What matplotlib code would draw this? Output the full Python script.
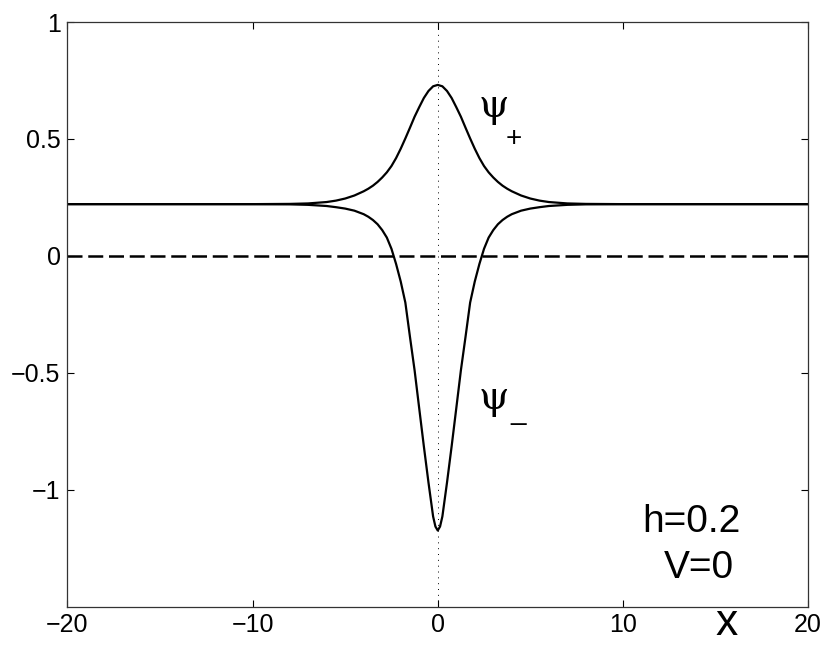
import matplotlib
matplotlib.use('Agg')
import matplotlib.pyplot as plt

plt.rcParams['font.family'] = ['Liberation Sans', 'DejaVu Sans']

# values
x_plus = [-20, -10, -8, -7, -6, -5.5, -5, -4.5, -4, -3.75, -3.5, -3.25, -3, -2.75, -2.5, -2.25, -2, -1.75, -1.5, -1.25, -1, -0.75, -0.5, -0.25,
          0, 0.25, 0.5, 0.75, 1, 1.25, 1.5, 1.75, 2, 2.25, 2.5, 2.75, 3, 3.25, 3.5, 3.75, 4, 4.5, 5, 5.5, 6, 7, 8, 10, 20]
psi_plus = [0.221, 0.221, 0.222, 0.224, 0.230, 0.236, 0.245, 0.258, 0.276, 0.287, 0.300, 0.316, 0.335, 0.357, 0.384, 0.418, 0.458, 0.502, 0.548, 0.595, 0.636, 0.675, 0.705, 0.725,
            0.731, 0.725, 0.705, 0.675, 0.636, 0.595, 0.548, 0.502, 0.458, 0.418, 0.384, 0.357, 0.335, 0.316, 0.300, 0.287, 0.276, 0.258, 0.245, 0.236, 0.230, 0.224, 0.222, 0.221, 0.221]

x_minus = [-20, -10, -8, -7, -6, -5.5, -5, -4.5, -4, -3.75, -3.5, -3.25, -3, -2.75, -2.5, -2.25, -2, -1.75, -1.5, -1.25, -1, -0.75, -0.5, -0.25, -0.125,
           0, 0.125, 0.25, 0.5, 0.75, 1, 1.25, 1.5, 1.75, 2, 2.25, 2.5, 2.75, 3, 3.25, 3.5, 3.75, 4, 4.5, 5, 5.5, 6, 7, 8, 10, 20]
psi_minus = [0.221, 0.221, 0.220, 0.218, 0.213, 0.208, 0.202, 0.193, 0.178, 0.167, 0.153, 0.135, 0.110, 0.078, 0.030, -0.035, -0.110, -0.200, -0.347, -0.490, -0.653, -0.815, -0.970, -1.115, -1.158,
             -1.175, -1.158, -1.115, -0.970, -0.815, -0.653, -0.490, -0.347, -0.200, -0.110, -0.035, 0.030, 0.078, 0.110, 0.135, 0.153, 0.167, 0.178, 0.193, 0.202, 0.208, 0.213, 0.218, 0.220, 0.221, 0.221]

xlim = [-20, 20]
ylim = [-1.5, 1]
xticks = [-20, -10, 0, 10, 20]
yticks = [-1, -0.5, 0, 0.5, 1]
yticklabels = ['\u22121', '\u22120.5', '0', '0.5', '1']
xticklabels = ['\u221220', '\u221210', '0', '10', '20']

fig = plt.figure(figsize=(8.3, 6.53), dpi=100)
ax = fig.add_axes([0.0813, 0.0712, 0.8922, 0.8951])

ax.plot(x_plus, psi_plus, color='black', lw=1.6)
ax.plot(x_minus, psi_minus, color='black', lw=1.6)
ax.plot(xlim, [0, 0], color='black', lw=1.8, linestyle=(0, (6, 2.3)))
ax.plot([0, 0], ylim, color='black', lw=0.7, linestyle=(0, (1, 5)))

ax.set_xlim(xlim)
ax.set_ylim(ylim)
ax.set_xticks(xticks)
ax.set_xticklabels(xticklabels)
ax.set_yticks(yticks)
ax.set_yticklabels(yticklabels)
ax.tick_params(direction='in', length=5.3, width=0.8, labelsize=18, top=True, right=True, pad=5)
for s in ax.spines.values():
    s.set_linewidth(0.9)
    s.set_color('#333333')

# labels
ax.text(2.2, 0.595, '\u03c8', fontsize=28, family='DejaVu Serif', ha='left', va='baseline')
ax.text(3.65, 0.47, '+', fontsize=20, ha='left', va='baseline')
ax.text(2.2, -0.655, '\u03c8', fontsize=28, family='DejaVu Serif', ha='left', va='baseline')
ax.text(3.9, -0.70, '_', fontsize=20, ha='left', va='baseline')
ax.text(13.7, -1.18, 'h=0.2', fontsize=28, ha='center', va='baseline')
ax.text(14.1, -1.38, 'V=0', fontsize=28, ha='center', va='baseline')
ax.text(15.6, -1.62, 'x', fontsize=32, ha='center', va='baseline')

fig.savefig('out.png', dpi=100)
